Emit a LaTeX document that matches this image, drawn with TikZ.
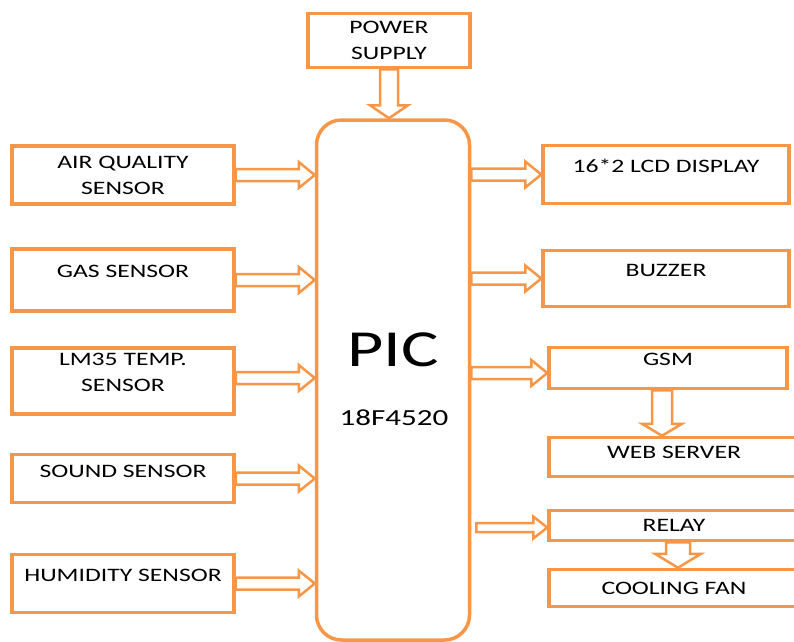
\documentclass[tikz,border=0pt]{standalone}
\usepackage{fontspec}
\setmainfont[FakeStretch=1.35]{Carlito}
\usetikzlibrary{calc}
\definecolor{boxorange}{HTML}{F79646}

\begin{document}
\begin{tikzpicture}[
    x=1pt, y=-1pt,
    blk/.style 2 args={draw=boxorange, line width=3.5pt, minimum width=#1, minimum height=#2,
                       inner sep=2pt, align=center, font=\fontsize{19}{26}\selectfont},
    raised/.style={text depth=#1},
    raised/.default=17pt,
    harr/.style n args={3}{draw=boxorange, line width=2.5pt,
      to path={let \p1=(\tikztostart), \p2=(\tikztotarget) in
        (\x1,\y1+#1) -- (\x2-#3,\y1+#1) -- (\x2-#3,\y1+#2) -- (\x2,\y1)
        -- (\x2-#3,\y1-#2) -- (\x2-#3,\y1-#1) -- (\x1,\y1-#1) -- cycle}},
    varr/.style n args={3}{draw=boxorange, line width=2.5pt,
      to path={let \p1=(\tikztostart), \p2=(\tikztotarget) in
        (\x1-#1,\y1) -- (\x1-#1,\y2+#3) -- (\x1-#2,\y2+#3) -- (\x1,\y2)
        -- (\x1+#2,\y2+#3) -- (\x1+#1,\y2+#3) -- (\x1+#1,\y1) -- cycle}}
  ]
  \useasboundingbox (0,0) rectangle (794,641);

  % controller
  \node[draw=boxorange, line width=3.5pt, rounded corners=25pt,
        minimum width=153pt, minimum height=520pt] (pic) at (393,380) {};
  \node[font=\fontsize{52}{60}\selectfont] (pictitle) at (393,350) {PIC};
  \node[font=\fontsize{23}{26}\selectfont] (picpart) at (394,418) {18F4520};

  \node[blk={162pt}{54pt}] (power) at (389,40.5) {POWER\\SUPPLY};

  % sensors
  \node[blk={222pt}{58pt}] (air) at (123,175) {AIR QUALITY\\SENSOR};
  \node[blk={222pt}{62pt}, raised] (gas) at (123,280) {GAS SENSOR};
  \node[blk={222pt}{66pt}, raised] (temp) at (123,381) {LM35 TEMP.\\SENSOR};
  \node[blk={222pt}{48pt}, raised=14pt] (sound) at (123,478.5) {SOUND SENSOR};
  \node[blk={222pt}{58pt}, raised] (humid) at (123,583.5) {HUMIDITY SENSOR};

  % outputs
  \node[blk={246pt}{58pt}, raised] (lcd) at (666,174.5) {16*2 LCD DISPLAY};
  \node[blk={246pt}{56pt}, raised] (buzzer) at (666,278.5) {BUZZER};
  \node[blk={238pt}{41pt}, raised] (gsm) at (668,368) {GSM};
  \node[blk={250pt}{39pt}, raised=10pt] (web) at (674,457) {WEB SERVER};
  \node[blk={250pt}{30pt}] (relay) at (674,525.5) {RELAY};
  \node[blk={250pt}{37pt}] (fan) at (674,588) {COOLING FAN};

  \draw[varr={9pt}{19pt}{13pt}] (power.south) to (pic.north);

  \foreach \src/\dy in {air/0, gas/0, temp/-3, sound/0, humid/0}
    \draw[harr={6pt}{13pt}{16pt}] ($(\src.east)+(0,\dy)$) to ($(pic.west |- \src.east)+(0,\dy)$);

  \draw[harr={6pt}{13pt}{16pt}] (pic.east |- lcd.west) to (lcd.west);
  \draw[harr={6pt}{13pt}{16pt}] (pic.east |- buzzer.west) to (buzzer.west);
  \draw[harr={6pt}{13pt}{16pt}] ($(pic.east |- gsm.west)+(0,5)$) to ($(gsm.west)+(0,5)$);

  \coordinate (relayin) at ($(pic.east |- relay.west)+(5,2)$);
  \draw[harr={4.5pt}{11pt}{14pt}] (relayin) to ($(relay.west)+(0,2)$);

  \draw[varr={10pt}{20pt}{12pt}] ($(gsm.south)+(-6,0)$) to ($(web.north)+(-6,0)$);
  \draw[varr={12pt}{23pt}{14pt}] ($(relay.south)+(4,0)$) to ($(fan.north)+(4,0)$);
\end{tikzpicture}
\end{document}
